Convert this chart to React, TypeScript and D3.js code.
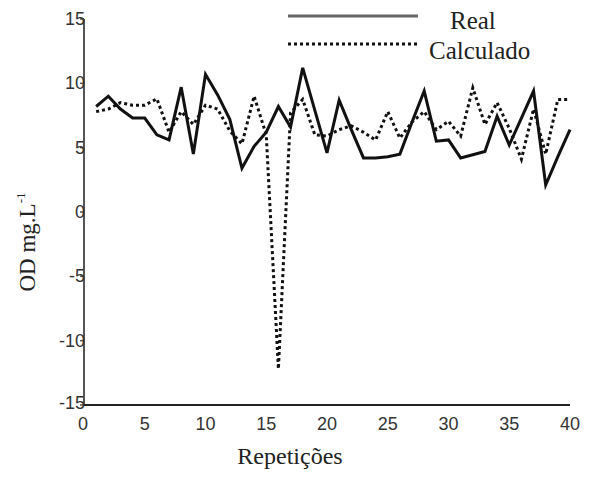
import React from "react";
import * as d3 from "d3";

// Repetition index (1..40)
const repeticoes: number[] = d3.range(1, 41);

// Measured OD (mg/L)
const real: number[] = [
  8.2, 9.0, 8.0, 7.3, 7.3, 6.0, 5.6, 9.7, 4.5, 10.7,
  9.1, 7.2, 3.4, 5.1, 6.2, 8.2, 6.6, 11.2, 7.9, 4.6,
  8.7, 6.4, 4.2, 4.2, 4.3, 4.5, 7.0, 9.4, 5.5, 5.6,
  4.2, 4.45, 4.7, 7.45, 5.2, 7.3, 9.4, 2.1, 4.3, 6.4,
];

// Calculated OD (mg/L)
const calculado: number[] = [
  7.8, 8.0, 8.5, 8.3, 8.3, 8.8, 6.2, 7.8, 6.8, 8.3,
  8.0, 6.3, 5.3, 9.0, 6.0, -12.2, 7.7, 8.75, 6.0, 5.9,
  6.4, 6.7, 6.2, 5.6, 7.8, 5.75, 7.0, 7.8, 6.4, 7.05,
  5.9, 9.65, 6.8, 8.5, 6.5, 4.1, 8.0, 4.5, 8.75, 8.75,
];

const xTicks: number[] = [0, 5, 10, 15, 20, 25, 30, 35, 40];
const yTicks: number[] = [15, 10, 5, 0, -5, -10, -15];

const legendLabels = { real: "Real", calculado: "Calculado" };
const xTitle = "Repetições";

const W = 590;
const H = 481;

export default function App() {
  const x = d3.scaleLinear().domain([0, 40]).range([84, 570]);
  const y = d3.scaleLinear().domain([-15, 15]).range([405, 19]);

  const line = d3
    .line<number>()
    .x((_, i) => x(repeticoes[i]))
    .y((d) => y(d));

  const serif = "'Liberation Serif', 'Times New Roman', serif";
  const sans = "'Liberation Sans', Arial, sans-serif";

  return (
    <svg
      width={W}
      height={H}
      style={{ position: "absolute", left: 0, top: 0, background: "#fff" }}
    >
      {/* axes */}
      <line x1={x(0)} x2={x(0)} y1={y(15)} y2={y(-15)} stroke="#555" strokeWidth={2} />
      <line x1={x(0)} x2={x(40)} y1={y(-15)} y2={y(-15)} stroke="#222" strokeWidth={2} />

      {yTicks.map((t) => (
        <g key={`y${t}`}>
          <line x1={x(0) - 4} x2={x(0)} y1={y(t)} y2={y(t)} stroke="#555" strokeWidth={1.5} />
          <text
            x={x(0) + 1}
            y={y(t) - (t === -15 ? 2 : 0)}
            textAnchor="end"
            dominantBaseline="central"
            fontFamily={sans}
            fontSize={18}
            fill="#333"
          >
            {t}
          </text>
        </g>
      ))}

      {xTicks.map((t) => (
        <text
          key={`x${t}`}
          x={x(t) - (t === 0 ? 1 : 0)}
          y={y(-15) + 19}
          textAnchor="middle"
          dominantBaseline="central"
          fontFamily={sans}
          fontSize={18}
          fill="#333"
        >
          {t}
        </text>
      ))}

      {/* series */}
      <path
        d={line(calculado) ?? ""}
        fill="none"
        stroke="#111"
        strokeWidth={3}
        strokeDasharray="3 3"
        strokeLinejoin="miter"
      />
      <path
        d={line(real) ?? ""}
        fill="none"
        stroke="#111"
        strokeWidth={3}
        strokeLinejoin="miter"
      />

      {/* legend */}
      <line x1={288} x2={418} y1={16} y2={16} stroke="#666" strokeWidth={3} />
      <text x={450} y={29} fontFamily={serif} fontSize={25} fill="#222">
        {legendLabels.real}
      </text>
      <line
        x1={288}
        x2={418}
        y1={44}
        y2={44}
        stroke="#111"
        strokeWidth={3}
        strokeDasharray="3 3"
      />
      <text x={429} y={59} fontFamily={serif} fontSize={25} fill="#222">
        {legendLabels.calculado}
      </text>

      {/* axis titles */}
      <text
        x={290}
        y={464}
        textAnchor="middle"
        fontFamily={serif}
        fontSize={24}
        fill="#222"
      >
        {xTitle}
      </text>
      <text
        transform={`translate(35, 242) rotate(-90)`}
        textAnchor="middle"
        fontFamily={serif}
        fontSize={23}
        fill="#222"
      >
        OD mg.L
        <tspan fontSize={13} dy={-10}>-1</tspan>
      </text>
    </svg>
  );
}
